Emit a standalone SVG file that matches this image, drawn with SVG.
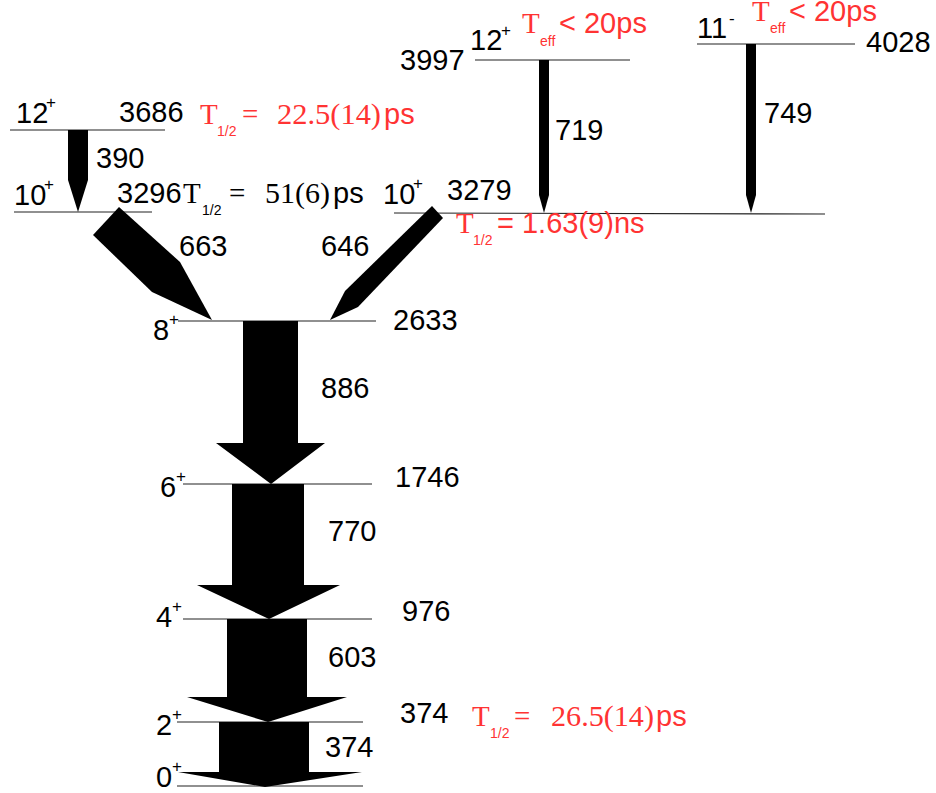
<svg xmlns="http://www.w3.org/2000/svg" width="936" height="793" viewBox="0 0 936 793">
  <style>
    .lvl { stroke: #222; stroke-width: 1.2; fill: none; }
    .arr { fill: #000; stroke: none; }
    .t { font-family: "Liberation Sans", Arial, sans-serif; font-size: 29px; fill: #000; }
    .sup { font-family: "Liberation Sans", Arial, sans-serif; font-size: 17px; fill: #000; }
    .red { fill: #ff3333; }
    .ser { font-family: "Liberation Serif", "Times New Roman", serif; font-size: 29px; }
    .sub { font-family: "Liberation Sans", Arial, sans-serif; font-size: 14px; }
  </style>
  <rect width="936" height="793" fill="#fff"/>

  <!-- level lines with spin/parity and energy labels -->
  <g id="level-3686">
    <line class="lvl" x1="10" y1="130" x2="165" y2="130"/>
    <text class="t" x="16" y="123">12</text><text class="sup" x="46" y="108">+</text>
    <text class="t" x="119" y="122">3686</text>
    <text class="red" y="124"><tspan class="ser" x="200">T</tspan><tspan class="sub" x="217" y="136">1/2</tspan><tspan class="ser" x="242" y="124">=</tspan><tspan class="ser" x="277" textLength="104" lengthAdjust="spacingAndGlyphs">22.5(14)</tspan><tspan class="t red" x="384">ps</tspan></text>
  </g>
  <g id="level-3296">
    <line class="lvl" x1="14" y1="212" x2="152" y2="212"/>
    <text class="t" x="14" y="205">10</text><text class="sup" x="44" y="190">+</text>
    <text class="t" x="117" y="203">3296</text>
    <text y="203"><tspan class="ser" x="183">T</tspan><tspan class="sub" x="202" y="215">1/2</tspan><tspan class="ser" x="229" y="203">=</tspan><tspan class="ser" x="265" textLength="65" lengthAdjust="spacingAndGlyphs">51(6)</tspan><tspan class="t" x="333">ps</tspan></text>
  </g>
  <g id="level-3279">
    <line class="lvl" x1="394" y1="213" x2="825" y2="214"/>
    <text class="t" x="383" y="204">10</text><text class="sup" x="413" y="189">+</text>
    <text class="t" x="447" y="200">3279</text>
    <text class="red" y="233"><tspan class="ser" x="456">T</tspan><tspan class="sub" x="473" y="245">1/2</tspan><tspan class="t red" x="497" y="233">= 1.63(9)ns</tspan></text>
  </g>
  <g id="level-3997">
    <line class="lvl" x1="475" y1="60" x2="630" y2="60"/>
    <text class="t" x="400" y="70">3997</text>
    <text class="t" x="470" y="50">12</text><text class="sup" x="501" y="36">+</text>
    <text class="red" y="33"><tspan class="ser" x="522">T</tspan><tspan class="sub" x="540" y="46">eff</tspan><tspan class="t red" x="559" y="33">&lt; 20ps</tspan></text>
  </g>
  <g id="level-4028">
    <line class="lvl" x1="697" y1="44" x2="855" y2="44"/>
    <text class="t" x="697" y="38">11</text><text class="sup" x="729" y="24">-</text>
    <text class="red" y="21"><tspan class="ser" x="752">T</tspan><tspan class="sub" x="770" y="33">eff</tspan><tspan class="t red" x="789" y="21">&lt; 20ps</tspan></text>
    <text class="t" x="866" y="52">4028</text>
  </g>
  <g id="level-2633">
    <line class="lvl" x1="178" y1="321" x2="376" y2="321"/>
    <text class="t" x="153" y="340">8</text><text class="sup" x="169" y="325">+</text>
    <text class="t" x="393" y="330">2633</text>
  </g>
  <g id="level-1746">
    <line class="lvl" x1="183" y1="484" x2="372" y2="484"/>
    <text class="t" x="160" y="497">6</text><text class="sup" x="176" y="482">+</text>
    <text class="t" x="395" y="487">1746</text>
  </g>
  <g id="level-976">
    <line class="lvl" x1="183" y1="619" x2="372" y2="619"/>
    <text class="t" x="156" y="627">4</text><text class="sup" x="172" y="612">+</text>
    <text class="t" x="402" y="621">976</text>
  </g>
  <g id="level-374">
    <line class="lvl" x1="177" y1="722" x2="363" y2="722"/>
    <text class="t" x="156" y="735">2</text><text class="sup" x="172" y="720">+</text>
    <text class="t" x="400" y="723">374</text>
    <text class="red" y="726"><tspan class="ser" x="472">T</tspan><tspan class="sub" x="490" y="738">1/2</tspan><tspan class="ser" x="514" y="726">=</tspan><tspan class="ser" x="551" textLength="103" lengthAdjust="spacingAndGlyphs">26.5(14)</tspan><tspan class="t red" x="656">ps</tspan></text>
  </g>
  <g id="level-0">
    <line class="lvl" x1="177" y1="786" x2="363" y2="786"/>
    <text class="t" x="156" y="787">0</text><text class="sup" x="172" y="772">+</text>
  </g>

  <!-- gamma transitions -->
  <g id="connectors">
    <g id="g390"><polygon class="arr" points="68,130 88,130 88,180 78,212 68,180"/><text class="t" x="96" y="168">390</text></g>
    <g id="g719"><polygon class="arr" points="539,60 549,60 549,195 544,213 539,195"/><text class="t" x="555" y="140">719</text></g>
    <g id="g749"><polygon class="arr" points="746,44 756,44 756,195 751,213 746,195"/><text class="t" x="764" y="123">749</text></g>
    <g id="g663"><polygon class="arr" points="93,235 119,207 180,262 212,320 152,292"/><text class="t" x="179" y="256">663</text></g>
    <g id="g646"><polygon class="arr" points="432,206 443,218 358,307 330,320 345,291"/><text class="t" x="321" y="256">646</text></g>
    <g id="g886"><polygon class="arr" points="243,321 298,321 298,443 325,443 271,484 216,443 243,443"/><text class="t" x="321" y="398">886</text></g>
    <g id="g770"><polygon class="arr" points="232,484 304,484 304,585 340,585 269,619 197,585 232,585"/><text class="t" x="328" y="541">770</text></g>
    <g id="g603"><polygon class="arr" points="227,619 307,619 307,697 347,697 268,722 187,697 227,697"/><text class="t" x="328" y="667">603</text></g>
    <g id="g374"><polygon class="arr" points="219,722 309,722 309,772 362,772 265,787 178,772 219,772"/><text class="t" x="325" y="757">374</text></g>
  </g>
</svg>
